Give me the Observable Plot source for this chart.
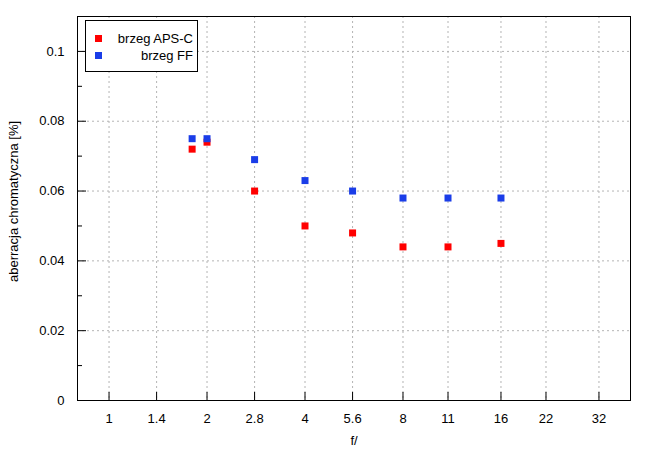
<!DOCTYPE html>
<html><head><meta charset="utf-8">
<script src="https://cdn.jsdelivr.net/npm/d3@7"></script>
<script src="https://cdn.jsdelivr.net/npm/@observablehq/plot@0.6"></script>
<style>
body{margin:0;background:#fff;font-family:"Liberation Sans",Arial,sans-serif}
#wrap{position:relative;width:655px;height:455px}
#legend{position:absolute;left:85px;top:20px;width:111px;height:50px;border:1px solid #000;background:#fff;font-size:13px;color:#000}
.row{position:absolute;left:0;right:0;height:16px;line-height:16px}
.sw{position:absolute;left:9px;top:4px;width:7px;height:7px}
.lb{position:absolute;right:4px;top:0;white-space:nowrap}
</style>
</head><body><div id="wrap"></div>
<script>
const fNumbers = [1.8, 2, 2.8, 4, 5.6, 8, 11, 16];
const apsc = [0.072, 0.074, 0.060, 0.050, 0.048, 0.044, 0.044, 0.045];
const ff = [0.075, 0.075, 0.069, 0.063, 0.060, 0.058, 0.058, 0.058];
const seriesNames = ["brzeg APS-C", "brzeg FF"];
const seriesColors = ["#ff0000", "#1a3de8"];
const xTicks = [1, 1.4, 2, 2.8, 4, 5.6, 8, 11, 16, 22, 32];
const yTicks = [0, 0.02, 0.04, 0.06, 0.08, 0.1];
const yMinor = [0.01, 0.03, 0.05, 0.07, 0.09];
const xLabel = "f/";
const yLabel = "aberracja chromatyczna [%]";

const rows = [];
fNumbers.forEach((f, i) => {
  rows.push({f, v: apsc[i], s: seriesNames[0]});
});
fNumbers.forEach((f, i) => {
  rows.push({f, v: ff[i], s: seriesNames[1]});
});

const W = 655, H = 455, mL = 77, mR = 25, mT = 16, mB = 55;
const innerW = W - mL - mR, innerH = H - mT - mB;
const grid = {stroke: "#b4b4b4", strokeDasharray: "2,3", strokeWidth: 1};

const chart = Plot.plot({
  width: W, height: H,
  marginLeft: mL, marginRight: mR, marginTop: mT, marginBottom: mB,
  style: {fontSize: "13px", fontFamily: "'Liberation Sans', Arial, sans-serif", color: "#000", background: "#fff"},
  x: {type: "log", domain: [0.8, 40], axis: null},
  y: {domain: [0, 0.11], axis: null},
  color: {domain: seriesNames, range: seriesColors},
  marks: [
    Plot.ruleX(xTicks, {...grid}),
    Plot.ruleY(yTicks.filter(d => d > 0), {...grid}),
    Plot.ruleX(xTicks, {stroke: "#000", insetTop: innerH - 8}),
    Plot.ruleY(yTicks, {stroke: "#000", insetRight: innerW - 9}),
    Plot.ruleY(yMinor, {stroke: "#000", insetRight: innerW - 5}),
    Plot.text(xTicks, {x: d => d, frameAnchor: "bottom", dy: 13, lineAnchor: "top", text: d => String(d), fontSize: 13}),
    Plot.text(yTicks, {y: d => d, frameAnchor: "left", dx: -13, textAnchor: "end", text: d => String(d), fontSize: 13}),
    Plot.dot(rows, {x: "f", y: "v", fill: "s", symbol: "square", r: 3.95, stroke: null}),
    Plot.frame({stroke: "#000"}),
    Plot.text([yLabel], {frameAnchor: "left", dx: -64, dy: -7, rotate: -90, textAnchor: "middle", text: d => d, fontSize: 13, ariaLabel: "ylabel"}),
    Plot.text([xLabel], {frameAnchor: "bottom", dy: 44, text: d => d, fontSize: 13})
  ]
});
const wrap = document.getElementById("wrap");
wrap.appendChild(chart);
chart.querySelectorAll('g[aria-label="ylabel"] text').forEach(t => t.setAttribute("letter-spacing", "0.3"));

const lg = document.createElement("div");
lg.id = "legend";
seriesNames.forEach((n, i) => {
  const r = document.createElement("div");
  r.className = "row";
  r.style.top = (10 + i * 17) + "px";
  const sw = document.createElement("div");
  sw.className = "sw";
  sw.style.background = seriesColors[i];
  const lb = document.createElement("div");
  lb.className = "lb";
  lb.textContent = n;
  r.appendChild(sw); r.appendChild(lb);
  lg.appendChild(r);
});
wrap.appendChild(lg);
</script>
</body></html>
